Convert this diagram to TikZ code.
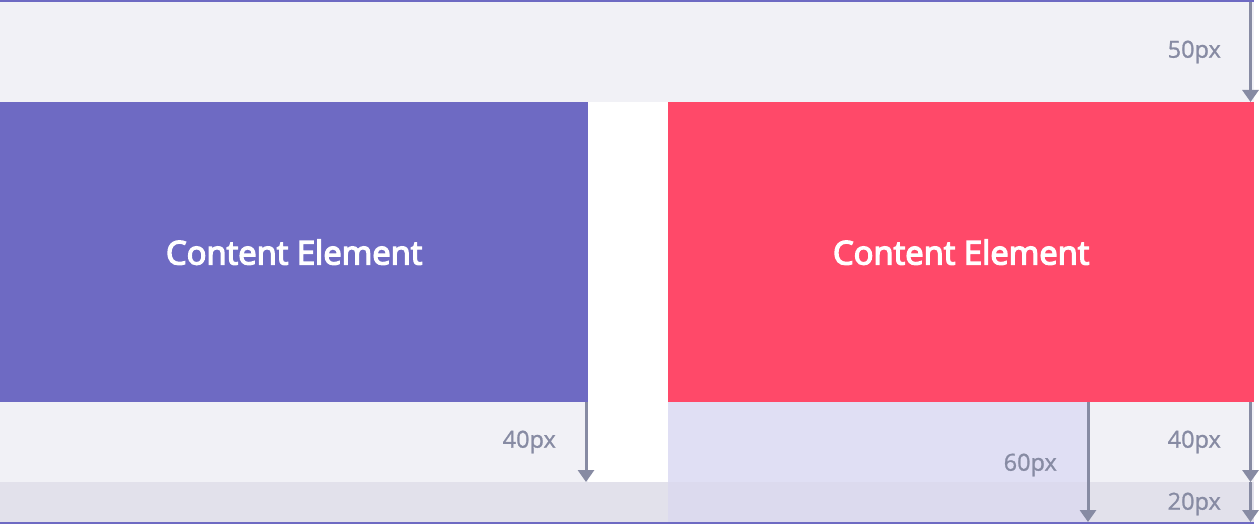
\documentclass[tikz,border=0pt]{standalone}
\usepackage{fontspec}
\setmainfont{Open Sans}
\newfontfamily\semibold{Open Sans}[FakeBold=4]
\newfontfamily\labelfont{Open Sans}[FakeBold=1]
\usetikzlibrary{arrows.meta}
\definecolor{edgeline}{HTML}{6E6AC3}
\definecolor{blockpurple}{HTML}{6E6AC3}
\definecolor{blockred}{HTML}{FF4969}
\definecolor{bandlight}{HTML}{F1F1F6}
\definecolor{banddark}{HTML}{E2E1EB}
\definecolor{lavlight}{HTML}{E0DFF4}
\definecolor{lavdark}{HTML}{DCDAEE}
\definecolor{measure}{HTML}{878BA3}
\tikzset{
  block/.style={anchor=north west, inner sep=0pt, minimum height=300pt,
    text=white, font=\fontsize{32.8}{38}\selectfont\semibold},
  gapline/.style={draw=measure, line width=3pt,
    -{Triangle[width=16pt,length=12pt]}},
  gaplabel/.style={anchor=east, inner sep=0pt, text=measure,
    font=\fontsize{23.5}{28}\selectfont\labelfont}
}
\begin{document}
\begin{tikzpicture}[x=1pt,y=-1pt]
\useasboundingbox (0,0) rectangle (1260,524);
\fill[white] (0,0) rectangle (1260,524);
% background bands
\fill[bandlight] (0,2) rectangle (1254,102);
\fill[bandlight] (0,402) rectangle (1254,482);
\fill[banddark] (0,482) rectangle (1254,522);
\fill[white] (588,102) rectangle (668,482);
\fill[lavlight] (668,402) rectangle (1088,482);
\fill[lavdark] (668,482) rectangle (1088,522);
\fill[edgeline] (0,0) rectangle (1254,2);
\fill[edgeline] (0,522) rectangle (1254,524);
% content elements
\node[block, fill=blockpurple, minimum width=588pt] (left) at (0,102) {Content Element};
\node[block, fill=blockred, minimum width=586pt] (right) at (668,102) {Content Element};
% measurement points
\coordinate (t0) at (1250.5,2);
\coordinate (t1) at (1250.5,102);
\coordinate (l0) at (586,402);
\coordinate (l1) at (586,482);
\coordinate (m0) at (1088,402);
\coordinate (m1) at (1088,522);
\coordinate (r0) at (1250.5,402);
\coordinate (r1) at (1250.5,482);
\coordinate (r2) at (1250.5,522);
% measurement arrows
\draw[gapline] (t0) -- (t1);
\draw[gapline] (l0) -- (l1);
\draw[gapline] (m0) -- (m1);
\draw[gapline] (r0) -- (r1);
\draw[gapline] (r1) -- (r2);
% labels
\node[gaplabel] (lt) at (1221,52) {50px};
\node[gaplabel] (ll) at (556,442) {40px};
\node[gaplabel] (lm) at (1057,465) {60px};
\node[gaplabel] (lr) at (1221,442) {40px};
\node[gaplabel] (lb) at (1221,504) {20px};
\end{tikzpicture}
\end{document}
